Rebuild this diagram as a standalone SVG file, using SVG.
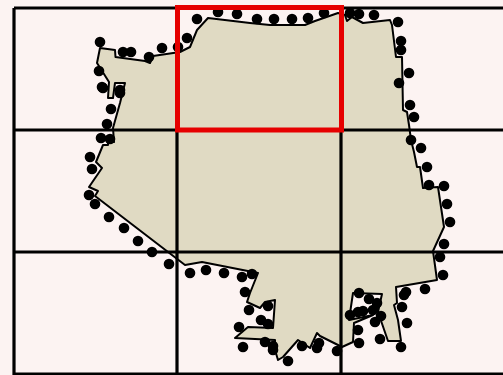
<svg xmlns="http://www.w3.org/2000/svg" width="503" height="375" viewBox="0 0 503 375">
<style>
.g{fill:none;stroke:#000;stroke-width:3.200}
.d{fill:#000}
</style>
<rect width="503" height="375" fill="#fcf3f2"/>
<g id="shape"><path d="M100 48L115 50L115.500 57L145 61L150 63L153 56L180 52L190 47L197 30L208 18L250 23L270 25L305 25L315 21L338 13L345 15L347 21L352 17L363 23L390 20L392 25L396 57L402 57L403 110L407 112L409 125L411 140L414 152L417 167L420 167L423 188L438 187L444 227L433 251L437 280L396 287L397 303L394 305L398 320L401 341L388 341L378 312L382 294L353 293L349 320L373 315L354 323L353 342L342 347L320 336L317 333L310 348L298 340L283 357L278 360L275 350L275 340L235 338L248 327L273 328L275 300L265 302L260 308L247 302L250 293L258 273L202 262L185 265L95 196L98 191L89 187L102 168L96 162L103 145L108 145L108 139L114 142L113 128L120 103L125 83L115 83L113 98L108 98L109 82L97 63Z" fill="#e0dac3" stroke="#000" stroke-width="2" stroke-linejoin="round"/></g>
<g id="connectors" class="g">
<path d="M14 8H503M14 130H503M14 252H503M14 374H503M14 8V375M177 8V375M341 8V375"/>
</g>
<g id="dots" class="d">
<circle cx="100" cy="42" r="5.300"/><circle cx="123" cy="52" r="5.300"/><circle cx="131" cy="52" r="5.300"/><circle cx="149" cy="57" r="5.300"/><circle cx="162" cy="48" r="5.300"/><circle cx="187" cy="38" r="5.300"/><circle cx="178" cy="47" r="5.300"/><circle cx="197" cy="19" r="5.300"/><circle cx="218" cy="12" r="5.300"/><circle cx="237" cy="14" r="5.300"/><circle cx="99" cy="71" r="5.300"/><circle cx="102" cy="87" r="5.300"/><circle cx="103" cy="88" r="5.300"/><circle cx="120" cy="90" r="5.300"/><circle cx="120" cy="93" r="5.300"/><circle cx="111" cy="109" r="5.300"/><circle cx="107" cy="124" r="5.300"/>
<circle cx="257" cy="19" r="5.300"/><circle cx="274" cy="19" r="5.300"/><circle cx="292" cy="19" r="5.300"/><circle cx="308" cy="18" r="5.300"/><circle cx="324" cy="13" r="5.300"/><circle cx="350" cy="13" r="5.300"/><circle cx="359" cy="14" r="5.300"/><circle cx="374" cy="15" r="5.300"/><circle cx="398" cy="22" r="5.300"/><circle cx="401" cy="41" r="5.300"/><circle cx="401" cy="50" r="5.300"/><circle cx="409" cy="73" r="5.300"/><circle cx="399" cy="83" r="5.300"/><circle cx="410" cy="105" r="5.300"/><circle cx="414" cy="117" r="5.300"/>
<circle cx="101" cy="138" r="5.300"/><circle cx="110" cy="139" r="5.300"/><circle cx="90" cy="157" r="5.300"/><circle cx="92" cy="169" r="5.300"/><circle cx="89" cy="195" r="5.300"/><circle cx="95" cy="204" r="5.300"/><circle cx="109" cy="217" r="5.300"/><circle cx="124" cy="228" r="5.300"/><circle cx="138" cy="241" r="5.300"/><circle cx="152" cy="252" r="5.300"/><circle cx="169" cy="264" r="5.300"/><circle cx="190" cy="273" r="5.300"/><circle cx="206" cy="270" r="5.300"/><circle cx="224" cy="273" r="5.300"/><circle cx="242" cy="277" r="5.300"/><circle cx="252" cy="274" r="5.300"/><circle cx="245" cy="292" r="5.300"/>
<circle cx="411" cy="140" r="5.300"/><circle cx="421" cy="148" r="5.300"/><circle cx="427" cy="167" r="5.300"/><circle cx="429" cy="185" r="5.300"/><circle cx="444" cy="186" r="5.300"/><circle cx="447" cy="204" r="5.300"/><circle cx="450" cy="222" r="5.300"/><circle cx="444" cy="244" r="5.300"/><circle cx="440" cy="257" r="5.300"/><circle cx="443" cy="275" r="5.300"/><circle cx="425" cy="289" r="5.300"/>
<circle cx="249" cy="310" r="5.300"/><circle cx="268" cy="306" r="5.300"/><circle cx="261" cy="320" r="5.300"/><circle cx="268" cy="324" r="5.300"/><circle cx="239" cy="327" r="5.300"/><circle cx="243" cy="347" r="5.300"/><circle cx="265" cy="342" r="5.300"/><circle cx="273" cy="346" r="5.300"/><circle cx="273" cy="350" r="5.300"/><circle cx="288" cy="361" r="5.300"/><circle cx="302" cy="346" r="5.300"/><circle cx="319" cy="343" r="5.300"/><circle cx="317" cy="348" r="5.300"/>
<circle cx="359" cy="293" r="5.300"/><circle cx="369" cy="299" r="5.300"/><circle cx="377" cy="303" r="5.300"/><circle cx="373" cy="310" r="5.300"/><circle cx="363" cy="311" r="5.300"/><circle cx="358" cy="312" r="5.300"/><circle cx="350" cy="315" r="5.300"/><circle cx="381" cy="316" r="5.300"/><circle cx="375" cy="322" r="5.300"/><circle cx="358" cy="330" r="5.300"/><circle cx="359" cy="343" r="5.300"/><circle cx="380" cy="339" r="5.300"/><circle cx="401" cy="347" r="5.300"/><circle cx="337" cy="351" r="5.300"/><circle cx="404" cy="295" r="5.300"/><circle cx="406" cy="292" r="5.300"/><circle cx="402" cy="307" r="5.300"/><circle cx="407" cy="323" r="5.300"/>
</g>
<g id="highlight"><rect x="177.500" y="7.500" width="164" height="122.500" fill="none" stroke="#e60000" stroke-width="5"/></g>
</svg>
